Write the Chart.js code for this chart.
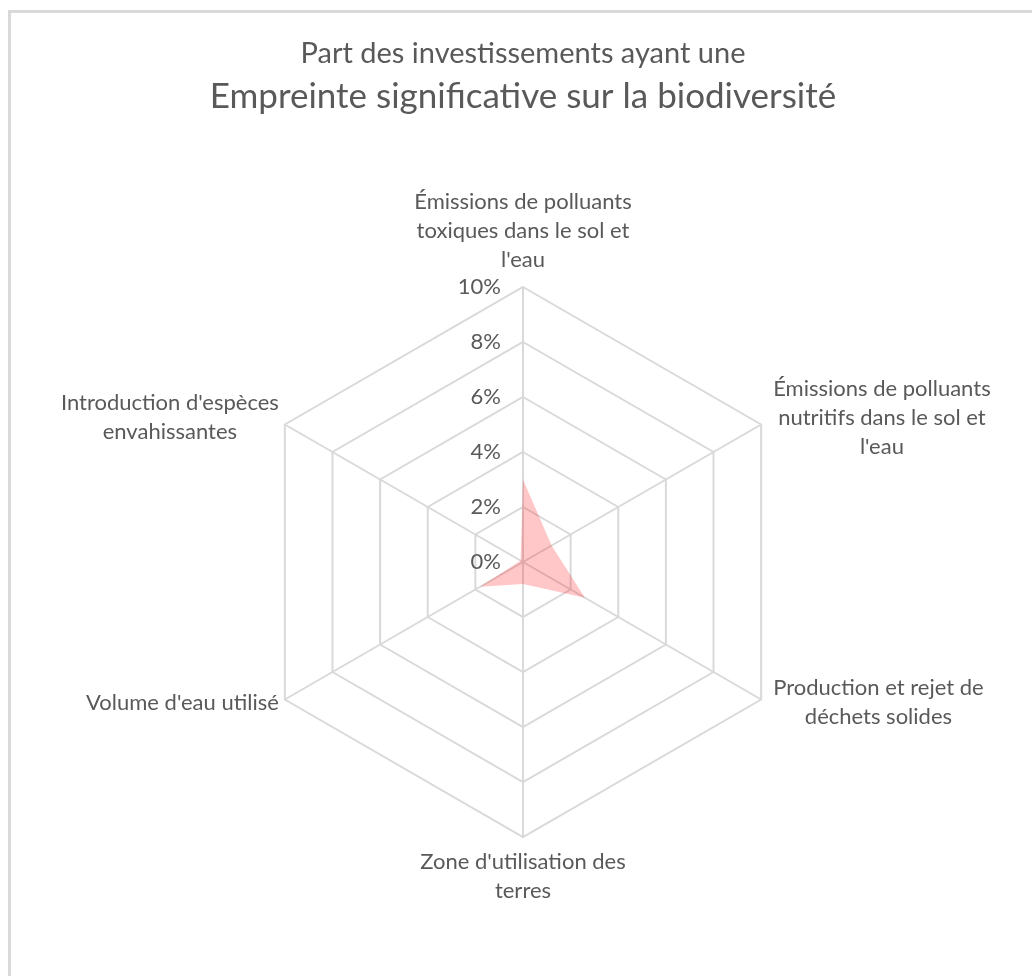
<!DOCTYPE html>
<html lang="fr">
<head>
<meta charset="utf-8">
<title>Empreinte significative sur la biodiversité</title>
<script src="https://cdn.jsdelivr.net/npm/chart.js@4.4.1/dist/chart.umd.min.js"></script>
<style>
    html, body { margin: 0; padding: 0; background: #fff; overflow: hidden; }
    #frame {
        position: absolute; left: 8px; top: 10px;
        width: 1100px; height: 1100px;
        border: 3px solid #d9d9d9;
    }
    #chart { position: absolute; left: 0; top: 0; }
</style>
</head>
<body>
<div id="frame"></div>
<canvas id="chart" width="1032" height="976"></canvas>
<script>
// axes of the radar, one entry per line of label
var axisLabels = [
    ['Émissions de polluants', 'toxiques dans le sol et', "l'eau"],
    ['Émissions de polluants', 'nutritifs dans le sol et', "l'eau"],
    ['Production et rejet de', 'déchets solides'],
    ["Zone d'utilisation des", 'terres'],
    ["Volume d'eau utilisé"],
    ["Introduction d'espèces", 'envahissantes']
];
// share of investments, in %
var shareValues = [3.0, 1.2, 2.6, 0.8, 1.8, 0.1];
var tickMax = 10;
var tickStep = 2;

var textColor = '#595959';
var gridColor = '#d9d9d9';
var fontFamily = 'Lato, "Open Sans", sans-serif';

var radarText = {
    id: 'radarText',
    afterDraw: function (chart) {
        var r = chart.scales.r;
        var ctx = chart.ctx;
        ctx.save();
        ctx.fillStyle = textColor;
        ctx.font = '22px ' + fontFamily;
        ctx.textBaseline = 'middle';

        // tick labels, left of the vertical axis
        ctx.textAlign = 'right';
        r.ticks.forEach(function (tick) {
            var d = r.getDistanceFromCenterForValue(tick.value);
            ctx.fillText(Math.round(tick.value) + '%', r.xCenter - 22, r.yCenter - d);
        });

        // point labels, lines centred in their block
        var lineH = 29;
        ctx.textAlign = 'center';
        axisLabels.forEach(function (lines, i) {
            var p = r.getPointPosition(i, r.drawingArea);
            var w = Math.max.apply(null, lines.map(function (l) { return ctx.measureText(l).width; }));
            var h = lines.length * lineH;
            var cos = Math.cos(p.angle);
            var sin = Math.sin(p.angle);
            var cx, top;
            if (Math.abs(cos) < 0.01) {
                cx = p.x;
                top = sin < 0 ? p.y - 13 - h : p.y + 10;
            } else {
                cx = cos > 0 ? p.x + 12 + w / 2 : p.x - 6 - w / 2;
                top = p.y - h / 2 + (sin < 0 ? -7 : 3);
            }
            lines.forEach(function (l, k) {
                ctx.fillText(l, cx, top + lineH * k + lineH / 2);
            });
        });
        ctx.restore();
    }
};

new Chart(document.getElementById('chart').getContext('2d'), {
    type: 'radar',
    data: {
        labels: axisLabels,
        datasets: [
            {
                data: shareValues,
                fill: true,
                backgroundColor: 'rgba(255, 0, 0, 0.22)',
                borderWidth: 0,
                pointRadius: 0,
                pointHoverRadius: 0
            }
        ]
    },
    options: {
        responsive: false,
        animation: false,
        devicePixelRatio: 1,
        layout: {
            padding: {top: 12, left: 14, right: 0, bottom: 138}
        },
        plugins: {
            legend: {display: false},
            tooltip: {enabled: false},
            title: {
                display: true,
                text: 'Part des investissements ayant une',
                color: textColor,
                font: {family: fontFamily, size: 29, weight: 'normal', lineHeight: 1.2},
                padding: {top: 24, bottom: 0}
            },
            subtitle: {
                display: true,
                text: 'Empreinte significative sur la biodiversité',
                color: textColor,
                font: {family: fontFamily, size: 35, weight: 'normal', lineHeight: 1.2},
                padding: {top: 5, bottom: 170}
            }
        },
        scales: {
            r: {
                min: 0,
                max: tickMax,
                beginAtZero: true,
                ticks: {stepSize: tickStep, display: false},
                grid: {color: gridColor, lineWidth: 2, circular: false},
                angleLines: {color: gridColor, lineWidth: 2},
                pointLabels: {display: false}
            }
        }
    },
    plugins: [radarText]
});
</script>
</body>
</html>
